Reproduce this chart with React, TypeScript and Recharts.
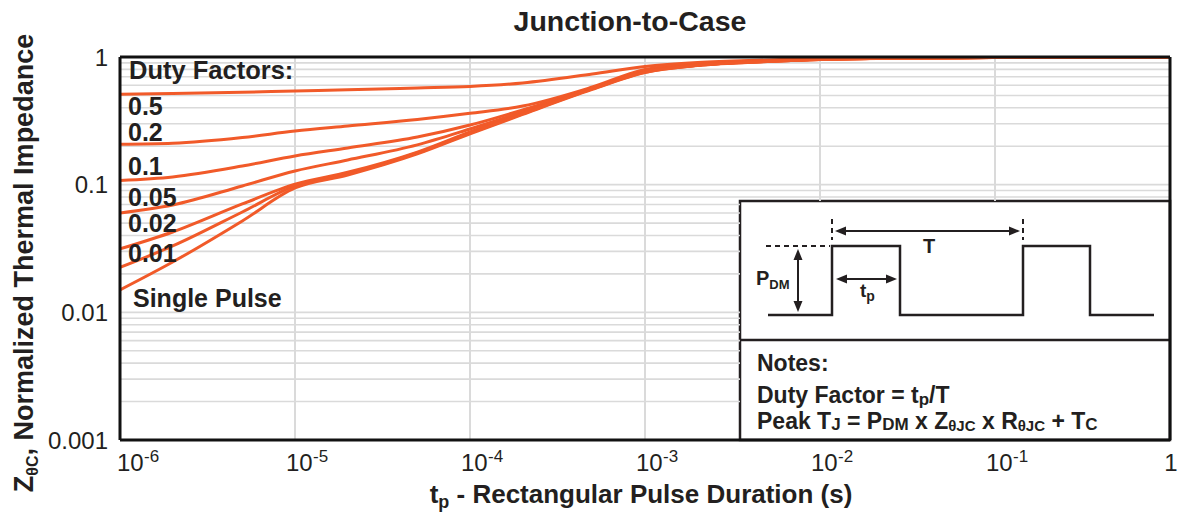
import React from "react";
import {
  LineChart,
  Line,
  XAxis,
  YAxis,
  ReferenceLine,
  ReferenceDot,
  Customized,
} from "recharts";

// ---- data ----
const TP = [1e-6, 2e-6, 5e-6, 1e-5, 2e-5, 5e-5, 1e-4, 2e-4, 5e-4, 1e-3, 2e-3, 5e-3, 1e-2, 1e-1, 1];
const D50 = [0.51, 0.518, 0.53, 0.542, 0.553, 0.572, 0.588, 0.626, 0.736, 0.843, 0.906, 0.947, 0.973, 0.991, 1];
const D20 = [0.207, 0.211, 0.234, 0.263, 0.288, 0.324, 0.362, 0.413, 0.582, 0.799, 0.881, 0.939, 0.965, 0.991, 1];
const D10 = [0.108, 0.115, 0.14, 0.168, 0.194, 0.236, 0.293, 0.385, 0.572, 0.77, 0.866, 0.927, 0.959, 0.991, 1];
const D05 = [0.06, 0.0693, 0.0977, 0.128, 0.156, 0.205, 0.273, 0.371, 0.567, 0.77, 0.863, 0.925, 0.958, 0.991, 1];
const D02 = [0.0314, 0.0426, 0.0706, 0.101, 0.125, 0.18, 0.259, 0.364, 0.567, 0.77, 0.862, 0.924, 0.957, 0.991, 1];
const D01 = [0.0225, 0.0331, 0.0611, 0.0977, 0.121, 0.177, 0.254, 0.358, 0.562, 0.76, 0.86, 0.923, 0.957, 0.991, 1];
const SINGLE = [0.015, 0.0248, 0.052, 0.0942, 0.119, 0.174, 0.25, 0.355, 0.557, 0.756, 0.858, 0.922, 0.956, 0.991, 1];

const SERIES_KEYS = ["d50", "d20", "d10", "d05", "d02", "d01", "single"];
const X_TICKS = [1e-6, 1e-5, 1e-4, 1e-3, 1e-2, 1e-1, 1];
const Y_TICKS = [0.001, 0.01, 0.1, 1];
const Y_TICK_LABELS = ["0.001", "0.01", "0.1", "1"];
const MINOR_MULT = [2, 3, 4, 5, 6, 7, 8, 9];
const DECADES = [0.001, 0.01, 0.1];

// in-plot labels: text and the Z value at the text baseline (left edge of plot)
const LABEL_TEXTS = ["Duty Factors:", "0.5", "0.2", "0.1", "0.05", "0.02", "0.01", "Single Pulse"];
const LABEL_Z = [0.673, 0.351, 0.22, 0.119, 0.0681, 0.0426, 0.0248, 0.011];
const LABEL_DX = [9, 8, 8, 8, 8, 8, 8, 13];

// inset corner in data units (left edge / top edge of the notes box)
const INSET_LEFT_T = 3.49e-3;
const INSET_TOP_Z = 0.0745;

const data = TP.map((t, i) => ({
  t,
  d50: D50[i],
  d20: D20[i],
  d10: D10[i],
  d05: D05[i],
  d02: D02[i],
  d01: D01[i],
  single: SINGLE[i],
}));

const gridY: number[] = [0.01, 0.1];
DECADES.forEach((d) => MINOR_MULT.forEach((m) => gridY.push(+(d * m).toPrecision(3))));
gridY.sort((a, b) => a - b);
const gridX = X_TICKS.slice(1, -1);

// ---- styles ----
const FONT = "'Liberation Sans', Arial, Helvetica, sans-serif";
const INK = "#231f20";
const ORANGE = "#f15a29";
const GRID = "#dadada";

const XTick = (props: any) => {
  const { x, payload } = props;
  const v = payload.value as number;
  const e = Math.round(Math.log10(v));
  if (e === 0) {
    return (
      <text x={x + 1} y={471} textAnchor="middle" fontFamily={FONT} fontSize={24} fill={INK}>
        1
      </text>
    );
  }
  const start = e === -6 ? x - 3 : x - 9;
  return (
    <g>
      <text x={start} y={471} textAnchor="start" fontFamily={FONT} fontSize={24} fill={INK}>
        10
      </text>
      <text x={start + 27} y={462} textAnchor="start" fontFamily={FONT} fontSize={17} fill={INK}>
        {String(e)}
      </text>
    </g>
  );
};

const YTick = (props: any) => {
  const { y, payload } = props;
  const idx = Y_TICKS.indexOf(payload.value);
  return (
    <text x={108} y={y + 8.5} textAnchor="end" fontFamily={FONT} fontSize={24} fill={INK}>
      {Y_TICK_LABELS[idx] ?? String(payload.value)}
    </text>
  );
};

const Arrow = ({ x1, y1, x2, y2 }: { x1: number; y1: number; x2: number; y2: number }) => {
  const dx = x2 - x1;
  const dy = y2 - y1;
  const len = Math.hypot(dx, dy);
  const ux = dx / len;
  const uy = dy / len;
  const px = -uy;
  const py = ux;
  const L = 11;
  const W = 4.5;
  const head = (tx: number, ty: number, dir: number) =>
    `${tx},${ty} ${tx - dir * ux * L + px * W},${ty - dir * uy * L + py * W} ${tx - dir * ux * L - px * W},${ty - dir * uy * L - py * W}`;
  return (
    <g>
      <line x1={x1 + ux * 4} y1={y1 + uy * 4} x2={x2 - ux * 4} y2={y2 - uy * 4} stroke={INK} strokeWidth={2} />
      <polygon points={head(x2, y2, 1)} fill={INK} />
      <polygon points={head(x1, y1, -1)} fill={INK} />
    </g>
  );
};

const Overlay = () => {
  return (
    <g fontFamily={FONT} fill={INK}>
      <text x={630} y={31} textAnchor="middle" fontSize={28.5} fontWeight="bold" fill={INK}>
        Junction-to-Case
      </text>
      <text
        transform="rotate(-90)"
        x={-263}
        y={33}
        textAnchor="middle"
        fontSize={27}
        fontWeight="bold"
        fill={INK}
      >
        Z
        <tspan fontSize={16} dy={5}>θC</tspan>
        <tspan dy={-5}>, Normalized Thermal Impedance</tspan>
      </text>
      <text x={641} y={503} textAnchor="middle" fontSize={26} fontWeight="bold" fill={INK}>
        t
        <tspan fontSize={18} dy={5}>p</tspan>
        <tspan dy={-5}> - Rectangular Pulse Duration (s)</tspan>
      </text>

      <rect x={740} y={201} width={430} height={239} fill="#ffffff" stroke={INK} strokeWidth={2.5} />
      <line x1={740} y1={340} x2={1170} y2={340} stroke={INK} strokeWidth={2.5} />

      <polyline
        points="768,315 832,315 832,246 900,246 900,315 1023,315 1023,246 1090,246 1090,315 1154,315"
        fill="none"
        stroke={INK}
        strokeWidth={2.5}
      />
      <line x1={766} y1={246} x2={830} y2={246} stroke={INK} strokeWidth={2} strokeDasharray="5,4" />
      <line x1={832} y1={219} x2={832} y2={240} stroke={INK} strokeWidth={2} strokeDasharray="5,4" />
      <line x1={1023} y1={219} x2={1023} y2={240} stroke={INK} strokeWidth={2} strokeDasharray="5,4" />
      <Arrow x1={835} y1={231} x2={1020} y2={231} />
      <Arrow x1={798} y1={249} x2={798} y2={312} />
      <Arrow x1={836} y1={279} x2={897} y2={279} />
      <text x={929} y={253} textAnchor="middle" fontSize={20} fontWeight="bold" fill={INK}>
        T
      </text>
      <text x={756} y={285} fontSize={20} fontWeight="bold" fill={INK}>
        P<tspan fontSize={13} dy={4}>DM</tspan>
      </text>
      <text x={860} y={297} fontSize={19} fontWeight="bold" fill={INK}>
        t<tspan fontSize={14} dy={4}>p</tspan>
      </text>

      <text x={757} y={371} fontSize={23} fontWeight="bold" fill={INK}>
        Notes:
      </text>
      <text x={757} y={403} fontSize={23} fontWeight="bold" fill={INK}>
        Duty Factor = t<tspan fontSize={17} dy={2}>p</tspan>
        <tspan dy={-2}>/T</tspan>
      </text>
      <text x={757} y={429} fontSize={23} fontWeight="bold" fill={INK}>
        Peak T<tspan fontSize={17} dy={1}>J</tspan>
        <tspan dy={-1}> = P</tspan>
        <tspan fontSize={17} dy={1}>DM</tspan>
        <tspan dy={-1}> x Z</tspan>
        <tspan fontSize={15} dy={2}>θJC</tspan>
        <tspan dy={-2}> x R</tspan>
        <tspan fontSize={15} dy={2}>θJC</tspan>
        <tspan dy={-2}> + T</tspan>
        <tspan fontSize={17} dy={1}>C</tspan>
      </text>
    </g>
  );
};

const makeLabelShape = (text: string, dx: number, size: number) => (p: any) => (
  <text
    x={(p.cx ?? 0) + dx}
    y={p.cy ?? 0}
    fontFamily={FONT}
    fontSize={size}
    fontWeight="bold"
    fill={INK}
  >
    {text}
  </text>
);

export default function App() {
  return (
    <div style={{ position: "absolute", left: 0, top: 0, width: 1181, height: 514, background: "#fff" }}>
      <LineChart
        width={1181}
        height={514}
        data={data}
        margin={{ top: 57, right: 11, bottom: 0, left: 0 }}
      >
        <XAxis
          dataKey="t"
          type="number"
          scale="log"
          domain={[1e-6, 1]}
          allowDataOverflow
          ticks={X_TICKS}
          interval={0}
          tick={<XTick />}
          tickLine={false}
          axisLine={false}
          height={74}
        />
        <YAxis
          type="number"
          scale="log"
          domain={[0.001, 1]}
          allowDataOverflow
          ticks={Y_TICKS}
          interval={0}
          tick={<YTick />}
          tickLine={false}
          axisLine={false}
          width={120}
        />
        {gridY.map((v) =>
          v >= INSET_TOP_Z ? (
            <ReferenceLine key={`gy${v}`} y={v} stroke={GRID} strokeWidth={1.6} />
          ) : (
            <ReferenceLine
              key={`gy${v}`}
              segment={[
                { x: 1e-6, y: v },
                { x: INSET_LEFT_T, y: v },
              ]}
              stroke={GRID}
              strokeWidth={1.6}
            />
          )
        )}
        {gridX.map((v) =>
          v < INSET_LEFT_T ? (
            <ReferenceLine key={`gx${v}`} x={v} stroke={GRID} strokeWidth={2} />
          ) : (
            <ReferenceLine
              key={`gx${v}`}
              segment={[
                { x: v, y: 1 },
                { x: v, y: INSET_TOP_Z },
              ]}
              stroke={GRID}
              strokeWidth={2}
            />
          )
        )}
        {SERIES_KEYS.map((k) => (
          <Line
            key={k}
            dataKey={k}
            type="monotone"
            stroke={ORANGE}
            strokeWidth={3}
            dot={false}
            isAnimationActive={false}
          />
        ))}
        <Customized component={Overlay} />
        {LABEL_TEXTS.map((s, i) => (
          <ReferenceDot
            key={`lab${i}`}
            x={1e-6}
            y={LABEL_Z[i]}
            r={0}
            ifOverflow="visible"
            shape={makeLabelShape(s, LABEL_DX[i], i === 0 ? 25.5 : 25)}
          />
        ))}
        <ReferenceLine y={1} stroke="#111" strokeWidth={3} />
        <ReferenceLine y={0.001} stroke="#111" strokeWidth={3} />
        <ReferenceLine x={1e-6} stroke="#111" strokeWidth={3} />
        <ReferenceLine x={1} stroke="#111" strokeWidth={3} />
      </LineChart>
    </div>
  );
}
